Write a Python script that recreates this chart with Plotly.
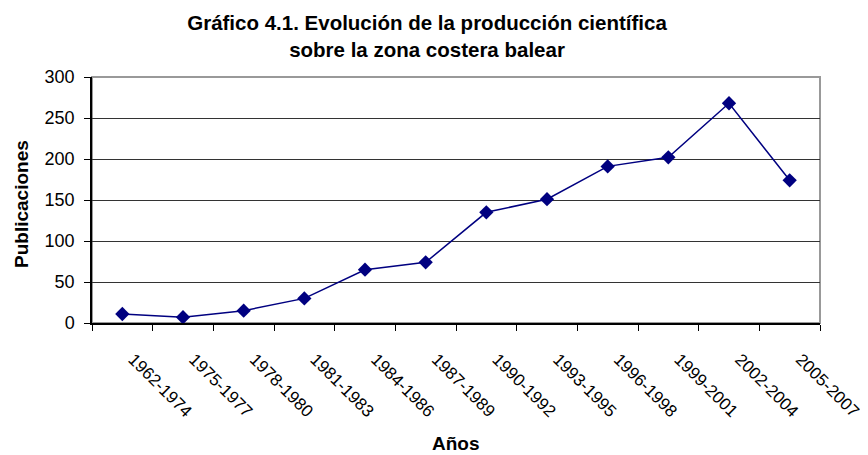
import plotly.graph_objects as go

periods = ["1962-1974", "1975-1977", "1978-1980", "1981-1983", "1984-1986", "1987-1989",
           "1990-1992", "1993-1995", "1996-1998", "1999-2001", "2002-2004", "2005-2007"]
publicaciones = [11, 7, 15, 30, 65, 74, 135, 151, 191, 202, 268, 174]
y_ticks = [0, 50, 100, 150, 200, 250, 300]

title_text = "Gráfico 4.1. Evolución de la producción científica<br>sobre la zona costera balear"
x_title = "Años"
y_title = "Publicaciones"

FONT = "Liberation Sans, Arial, sans-serif"
W, H = 868, 455
OFF = 8  # page body margin
L, R, T, B = 92 - OFF, 48 + OFF, 77 - OFF, 132 + OFF
pw = W - L - R
ph = H - T - B

fig = go.Figure()
fig.add_trace(go.Scatter(
    x=periods, y=publicaciones, mode="lines+markers",
    line=dict(color="#000080", width=1.5),
    marker=dict(symbol="diamond", size=11, color="#000080"),
    showlegend=False,
))

fig.update_layout(
    width=W, height=H,
    margin=dict(l=L, r=R, t=T, b=B, autoexpand=False),
    paper_bgcolor="white", plot_bgcolor="white",
    font=dict(family=FONT, color="black", size=18),
    title=dict(text="<b>" + title_text + "</b>", x=(427 - OFF) / W, xanchor="center", xref="container",
               y=1 - (30 - OFF) / H, yanchor="middle", yref="container",
               font=dict(size=20.5, family=FONT, color="black")),
    shapes=[dict(type="rect", xref="paper", yref="paper", x0=0, x1=1, y0=0, y1=1,
                 line=dict(color="#999999", width=2), layer="below")],
    annotations=[
        dict(text="<b>" + x_title + "</b>", xref="paper", yref="paper",
             x=0.5, y=(T + ph - (443 - OFF)) / ph,
             xanchor="center", yanchor="middle", showarrow=False,
             font=dict(size=19, family=FONT, color="black")),
        dict(text="<b>" + y_title + "</b>", xref="paper", yref="paper",
             x=((21 - OFF) - L) / pw, y=(T + ph - (204 - OFF)) / ph, textangle=-90,
             xanchor="center", yanchor="middle", showarrow=False,
             font=dict(size=19, family=FONT, color="black")),
    ],
)
fig.update_xaxes(
    type="category", range=[-0.5, 11.5], automargin=False,
    showline=True, linecolor="black", linewidth=1.5,
    ticks="outside", tickson="boundaries", ticklen=6, tickcolor="black", tickwidth=1,
    tickangle=45, tickfont=dict(size=17), ticklabelstandoff=18, ticklabelshift=11,
    showgrid=False, zeroline=False,
)
fig.update_yaxes(
    range=[0, 300], tickvals=y_ticks, automargin=False,
    showline=True, linecolor="black", linewidth=1.5,
    ticks="outside", ticklen=6, tickcolor="black", tickwidth=1,
    showgrid=True, gridcolor="#333333", gridwidth=1, zeroline=False,
    tickfont=dict(size=18), ticklabelstandoff=6,
)
fig.write_html("out.html")
